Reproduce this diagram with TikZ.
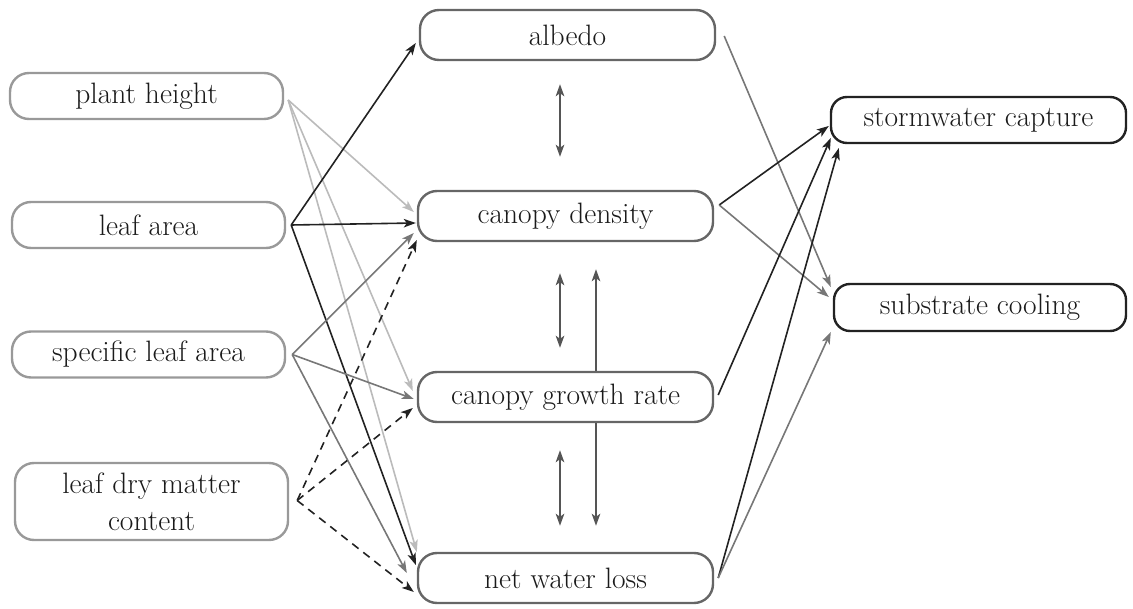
\documentclass[tikz,border=0pt]{standalone}
\usepackage{fontspec}
\setmainfont{Latin Modern Roman}
\usetikzlibrary{arrows.meta,calc}
\definecolor{boxL}{HTML}{999999}
\definecolor{boxM}{HTML}{666666}
\definecolor{boxR}{HTML}{222222}
\definecolor{txt}{HTML}{1A1A1A}
\definecolor{lgray}{HTML}{BBBBBB}
\definecolor{mgray}{HTML}{777777}
\definecolor{dgray}{HTML}{555555}
\begin{document}
\begin{tikzpicture}[x=1pt,y=-1pt,
  box/.style={rectangle,rounded corners=19pt,line width=2.4pt,minimum height=46pt,
    text=txt,font=\fontsize{29.5}{37}\selectfont,align=center,inner sep=0pt},
  lbox/.style={box,draw=boxL,minimum width=273pt},
  mbox/.style={box,draw=boxM,minimum width=295pt,minimum height=50pt},
  rbox/.style={box,draw=boxR,rounded corners=16pt},
  tip/.style={-{Stealth[length=12pt,width=8.5pt,inset=3pt]}},
  lg/.style={tip,draw=lgray,line width=1.6pt},
  mg/.style={tip,draw=mgray,line width=1.6pt},
  bk/.style={tip,draw=boxR,line width=1.6pt},
  dsh/.style={bk,dash pattern=on 8pt off 6pt},
  vv/.style={{Stealth[length=12pt,width=8.5pt,inset=3pt]}-{Stealth[length=12pt,width=8.5pt,inset=3pt]},draw=dgray,line width=2pt},
  vu/.style={tip,draw=dgray,line width=2pt}]
\useasboundingbox (0,0) rectangle (1133,609);
% left column
\node[lbox] (ph) at (146.5,96) {plant height};
\node[lbox] (la) at (148.5,225) {leaf area};
\node[lbox] (sla) at (148.5,354.5) {specific leaf area};
\node[lbox,minimum height=77pt] (ldmc) at (151.5,501.5) {leaf dry matter\\content};
% middle column
\node[mbox] (al) at (567.5,35) {albedo};
\node[mbox] (cd) at (565.5,216) {canopy density};
\node[mbox] (cg) at (565.5,397) {canopy growth rate};
\node[mbox] (nw) at (565.5,578) {net water loss};
% right column
\node[rbox,minimum width=295pt] (sc) at (978.5,120) {stormwater capture};
\node[rbox,minimum width=292pt,minimum height=47pt] (sub) at (980,307.5) {substrate cooling};
% plant height
\draw[lg] ($(ph.east)+(4,4)$) -- ($(cd.west)+(-3,-4)$);
\draw[lg] ($(ph.east)+(4,4)$) -- ($(cg.west)+(-4,-6)$);
\draw[lg] ($(ph.east)+(4,4)$) -- ($(nw.west)+(0,-26)$);
% leaf area
\draw[bk] ($(la.east)+(5,0)$) -- ($(al.west)+(-3,8)$);
\draw[bk] ($(la.east)+(5,0)$) -- ($(cd.west)+(-1,7)$);
\draw[bk] ($(la.east)+(5,0)$) -- ($(nw.west)+(-1,-13)$);
% specific leaf area
\draw[mg] ($(sla.east)+(6,0)$) -- ($(cd.west)+(-3,17)$);
\draw[mg] ($(sla.east)+(6,0)$) -- ($(cg.west)+(-3,2)$);
\draw[mg] ($(sla.east)+(6,0)$) -- ($(nw.west)+(-10,-5)$);
% leaf dry matter content
\draw[dsh] ($(ldmc.east)+(8,-1)$) -- ($(cd.west)+(0,24)$);
\draw[dsh] ($(ldmc.east)+(8,-1)$) -- ($(cg.west)+(-4,11)$);
\draw[dsh] ($(ldmc.east)+(8,-1)$) -- ($(nw.west)+(-3,14)$);
% middle vertical links
\draw[vv] ($(al.south)+(-7.5,23)$) -- ($(cd.north)+(-5.5,-33)$);
\draw[vv] ($(cd.south)+(-5.5,31)$) -- ($(cg.north)+(-5.5,-23)$);
\draw[vv] ($(cg.south)+(-5.5,27)$) -- ($(nw.north)+(-5.5,-26)$);
\draw[vu] ($(cg.north)+(30.5,0)$) -- ($(cd.south)+(30.5,27)$);
\draw[vu] ($(cg.south)+(30.5,0)$) -- ($(nw.north)+(30.5,-26)$);
% right links
\draw[mg] ($(al.east)+(8,1)$) -- ($(sub.west)+(-2,-20.5)$);
\draw[bk] ($(cd.east)+(5,-11)$) -- ($(sc.west)+(-1,6)$);
\draw[mg] ($(cd.east)+(5,-11)$) -- ($(sub.west)+(-4,-10.5)$);
\draw[bk] ($(cg.east)+(4,-2)$) -- ($(sc.west)+(1,18)$);
\draw[bk] ($(nw.east)+(4,0)$) -- ($(sc.west)+(9,28)$);
\draw[mg] ($(nw.east)+(4,0)$) -- ($(sub.west)+(-2,24.5)$);
\end{tikzpicture}
\end{document}
